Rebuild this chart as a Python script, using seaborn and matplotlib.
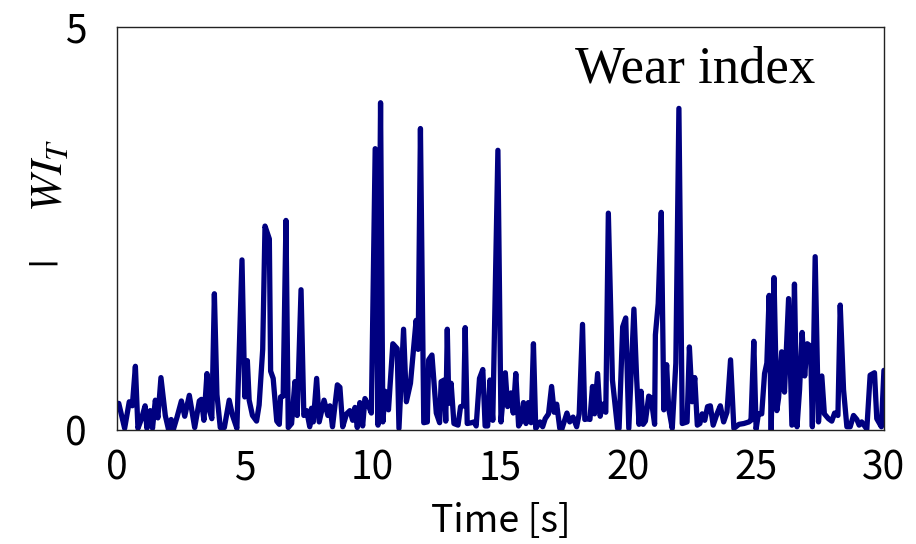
#%%
# Wear index over time - line chart recreated with seaborn

import pandas as pd
import seaborn as sns
import matplotlib.pyplot as plt

# time [s] and wear index values
time_s = [0.0, 0.07, 0.3, 0.48, 0.6, 0.72, 0.82, 0.95, 1.1, 1.17, 1.3, 1.39, 1.5, 1.6, 1.72,
          1.89, 2.02, 2.12, 2.21, 2.35, 2.52, 2.65, 2.83, 3.04, 3.22, 3.3, 3.4, 3.52, 3.6,
          3.71, 3.81, 3.91, 4.04, 4.2, 4.39, 4.52, 4.69, 4.89, 5.0, 5.1, 5.17, 5.3, 5.46,
          5.56, 5.7, 5.79, 5.96, 6.01, 6.11, 6.25, 6.35, 6.4, 6.5, 6.61, 6.7, 6.83, 6.96,
          7.05, 7.2, 7.31, 7.42, 7.54, 7.61, 7.68, 7.81, 7.91, 8.1, 8.25, 8.33, 8.43, 8.62,
          8.72, 8.83, 8.98, 9.11, 9.22, 9.31, 9.4, 9.5, 9.61, 9.7, 9.84, 9.95, 10.1, 10.21,
          10.31, 10.4, 10.49, 10.62, 10.79, 10.96, 11.03, 11.21, 11.32, 11.48, 11.7, 11.78,
          11.87, 12.0, 12.14, 12.19, 12.32, 12.49, 12.62, 12.68, 12.8, 12.86, 12.92, 12.98,
          13.07, 13.18, 13.34, 13.44, 13.56, 13.62, 13.7, 13.86, 13.97, 14.05, 14.18, 14.31,
          14.4, 14.5, 14.59, 14.7, 14.9, 15.02, 15.19, 15.28, 15.41, 15.5, 15.6, 15.71,
          15.8, 15.9, 16.0, 16.09, 16.2, 16.29, 16.38, 16.55, 16.65, 16.75, 16.88, 17.0,
          17.1, 17.2, 17.32, 17.4, 17.6, 17.71, 17.84, 17.98, 18.08, 18.21, 18.3, 18.4,
          18.5, 18.6, 18.68, 18.8, 18.9, 19.0, 19.12, 19.22, 19.38, 19.58, 19.64, 19.78,
          19.9, 20.02, 20.22, 20.33, 20.42, 20.5, 20.58, 20.67, 20.8, 20.89, 21.03, 21.06,
          21.17, 21.29, 21.39, 21.5, 21.58, 21.72, 21.86, 21.98, 22.11, 22.3, 22.39, 22.5,
          22.6, 22.7, 22.8, 22.89, 22.99, 23.1, 23.21, 23.32, 23.47, 23.6, 23.73, 23.86,
          24.0, 24.13, 24.33, 24.52, 24.72, 24.8, 24.91, 25.0, 25.09, 25.22, 25.33, 25.42,
          25.51, 25.59, 25.7, 25.81, 25.88, 26.0, 26.11, 26.27, 26.4, 26.5, 26.6, 26.7,
          26.8, 26.9, 27.0, 27.13, 27.2, 27.31, 27.44, 27.57, 27.67, 27.83, 27.96, 28.07,
          28.2, 28.29, 28.42, 28.55, 28.68, 28.81, 28.94, 29.03, 29.13, 29.33, 29.46, 29.63,
          29.72, 29.9, 30.0]
wear_index = [0.33, 0.33, 0.02, 0.35, 0.3, 0.79, 0.02, 0.13, 0.3, 0.02, 0.24, 0.02, 0.37, 0.15, 0.65,
              0.18, 0.0, 0.13, 0.01, 0.16, 0.36, 0.17, 0.43, 0.03, 0.36, 0.38, 0.12, 0.7, 0.26,
              0.14, 1.69, 0.44, 0.03, 0.03, 0.37, 0.18, 0.02, 2.11, 0.41, 0.86, 0.37, 0.18, 0.11,
              0.31, 1.0, 2.53, 2.37, 0.73, 0.64, 0.11, 0.07, 0.41, 0.42, 2.6, 0.03, 0.08, 0.6,
              0.18, 1.74, 0.18, 0.24, 0.04, 0.27, 0.1, 0.64, 0.1, 0.37, 0.18, 0.3, 0.04, 0.56,
              0.53, 0.04, 0.2, 0.24, 0.12, 0.28, 0.03, 0.34, 0.05, 0.39, 0.3, 0.21, 3.49, 0.06,
              4.06, 0.1, 0.48, 0.25, 1.07, 1.01, 0.02, 1.25, 0.35, 0.58, 1.36, 1.0,
              3.74, 0.09, 0.1, 0.87, 0.93, 0.21, 0.09, 0.6, 0.62, 0.11, 1.25, 0.33,
              0.58, 0.08, 0.06, 0.29, 0.3, 1.27, 0.08, 0.09, 0.1, 0.05, 0.64, 0.75,
              0.05, 0.05, 0.62, 0.12, 3.47, 0.1, 0.71, 0.29, 0.46, 0.21, 0.7, 0.05,
              0.1, 0.34, 0.08, 0.34, 0.09, 1.07, 0.02, 0.1, 0.04, 0.14, 0.2, 0.54,
              0.22, 0.32, 0.02, 0.01, 0.21, 0.1, 0.16, 0.04, 0.2, 1.31, 0.13, 0.14,
              0.13, 0.54, 0.2, 0.7, 0.17, 0.32, 0.22, 2.69, 0.62, 0.02, 0.02, 1.28,
              1.39, 0.02, 1.5, 0.62, 0.07, 0.48, 0.07, 0.11, 0.42, 0.4, 0.07, 1.18,
              1.57, 2.7, 0.25, 0.81, 0.27, 0.02, 0.83, 3.99, 0.08, 0.1, 1.03, 0.35,
              0.65, 0.06, 0.08, 0.2, 0.12, 0.29, 0.3, 0.06, 0.2, 0.3, 0.1, 0.22,
              0.87, 0.02, 0.07, 0.08, 0.1, 0.12, 1.1, 0.01, 0.2, 0.2, 0.7, 0.83,
              1.67, 0.0, 1.89, 0.24, 0.4, 0.97, 0.47, 1.63, 0.06, 1.81, 0.04, 0.5,
              1.21, 0.67, 1.07, 1.04, 0.04, 2.15, 0.1, 0.67, 0.2, 0.14, 0.11, 0.21,
              0.18, 1.55, 0.5, 0.04, 0.04, 0.18, 0.13, 0.06, 0.1, 0.01, 0.68, 0.71,
              0.14, 0.04, 0.74]

x_ticks = [0, 5, 10, 15, 20, 25, 30]
y_ticks = [0, 5]

df = pd.DataFrame({"time": time_s, "wi": wear_index})

# plain white style, Gothic-like font for the numbers
sns.set_style("white")
plt.rcParams['font.family'] = ['Noto Sans CJK JP', 'DejaVu Sans']
plt.rcParams['mathtext.fontset'] = 'stix'
plt.rcParams['text.color'] = 'black'

fig = plt.figure(figsize=(9.16, 5.44), dpi=100)
ax = fig.add_axes([0.1277, 0.2096, 0.8373, 0.7408])

sns.lineplot(data=df, x="time", y="wi", color="#000080", linewidth=3.8,
             estimator=None, sort=False, ax=ax)

ax.set_xlim(0, 30)
ax.set_ylim(0, 5)
ax.set_xticks(x_ticks)
ax.set_yticks(y_ticks)
ax.tick_params(axis="x", direction="in", length=6, width=0.8, color="#555555",
               labelsize=28, labelcolor="black", pad=13)
ax.tick_params(axis="y", direction="in", length=0, labelsize=28,
               labelcolor="black", pad=22)
for s in ax.spines.values():
    s.set_color("#222222")
    s.set_linewidth(1.0)

ax.set_xlabel("Time [s]", fontsize=27, color="black", labelpad=10)
ax.set_ylabel("")

# title text inside the plot and the y label
ax.text(0.91, 0.955, "Wear index", transform=ax.transAxes, ha="right", va="top",
        fontsize=38, family="Liberation Serif", color="black")
fig.text(0.053, 0.678, r"$WI_T$", rotation=90, ha="center", va="center", fontsize=32)
fig.text(0.05, 0.515, r"$|$", rotation=90, ha="center", va="center", fontsize=30)

plt.savefig("out.png", dpi=100)
